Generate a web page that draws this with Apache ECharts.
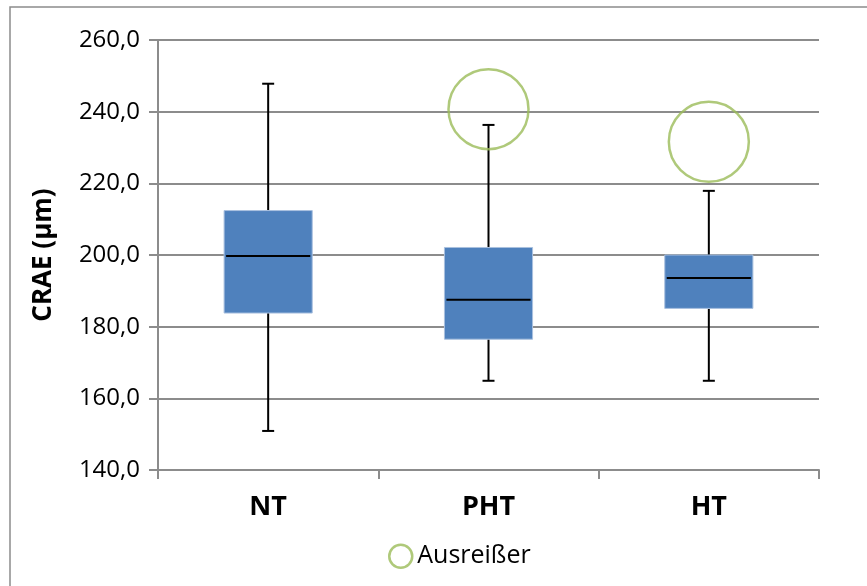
<!DOCTYPE html>
<html>
<head>
<meta charset="utf-8">
<script src="https://cdn.jsdelivr.net/npm/echarts@6/dist/echarts.min.js"></script>
<style>
  html, body { margin: 0; padding: 0; background: #fff; }
  #chart { width: 867px; height: 586px; }
</style>
</head>
<body>
<div id="chart"></div>
<script>
// CRAE per group: whisker ends, quartiles and median (µm)
const categories = ['NT', 'PHT', 'HT'];
const whiskerLow  = [150.9, 164.9, 164.9];
const quartile1   = [183.8, 176.5, 185.1];
const median      = [199.7, 187.5, 193.6];
const quartile3   = [212.4, 202.1, 200.0];
const whiskerHigh = [247.8, 236.3, 217.9];

// Outliers (group, value)
const outlierGroups = ['PHT', 'HT'];
const outlierValues = [240.7, 231.6];

const yTicks = { min: 140, max: 260, interval: 20 };

const FONT = '"Open Sans", "Noto Sans", sans-serif';
const GRID_COLOR = '#8c8c8c';

const boxData = categories.map((c, i) =>
  [i, whiskerLow[i], quartile1[i], median[i], quartile3[i], whiskerHigh[i]]);
const outlierData = outlierGroups.map((g, i) => [g, outlierValues[i]]);

function renderBox(params, api) {
  const x = api.value(0);
  const pLow = api.coord([x, api.value(1)]);
  const pQ1 = api.coord([x, api.value(2)]);
  const pMed = api.coord([x, api.value(3)]);
  const pQ3 = api.coord([x, api.value(4)]);
  const pHigh = api.coord([x, api.value(5)]);
  const bandW = api.size([1, 0])[0];
  const boxW = bandW * 0.4;
  const capW = 12;
  const cx = pMed[0];
  const lineStyle = { stroke: '#000', lineWidth: 2 };
  return {
    type: 'group',
    children: [
      { type: 'line', shape: { x1: cx, y1: pHigh[1], x2: cx, y2: pQ3[1] }, style: lineStyle },
      { type: 'line', shape: { x1: cx, y1: pQ1[1], x2: cx, y2: pLow[1] }, style: lineStyle },
      { type: 'line', shape: { x1: cx - capW / 2, y1: pHigh[1], x2: cx + capW / 2, y2: pHigh[1] }, style: lineStyle },
      { type: 'line', shape: { x1: cx - capW / 2, y1: pLow[1], x2: cx + capW / 2, y2: pLow[1] }, style: lineStyle },
      { type: 'rect', shape: { x: cx - boxW / 2, y: pQ3[1], width: boxW, height: pQ1[1] - pQ3[1] },
        style: { fill: '#4F81BD', stroke: '#a9c0df', lineWidth: 1 } },
      { type: 'line', shape: { x1: cx - boxW / 2 + 2, y1: pMed[1], x2: cx + boxW / 2 - 2, y2: pMed[1] }, style: lineStyle }
    ]
  };
}

const chart = echarts.init(document.getElementById('chart'), null, { renderer: 'canvas' });
chart.setOption({
  backgroundColor: '#fff',
  animation: false,
  graphic: [{
    type: 'rect',
    shape: { x: 10, y: 7, width: 880, height: 620 },
    style: { fill: 'none', stroke: '#8c8c8c', lineWidth: 1.5 },
    silent: true
  }],
  grid: { left: 158, right: 48, top: 40, bottom: 116 },
  legend: {
    bottom: 12,
    left: 383,
    itemWidth: 23,
    itemHeight: 23,
    itemGap: 10,
    textStyle: { fontFamily: FONT, fontSize: 25, color: '#000' },
    data: [{
      name: 'Ausreißer',
      icon: 'circle',
      itemStyle: { color: '#fff', borderColor: '#9BBB59', borderWidth: 2.5 }
    }]
  },
  xAxis: {
    type: 'category',
    data: categories,
    boundaryGap: true,
    axisLine: { lineStyle: { color: GRID_COLOR, width: 2 } },
    axisTick: { show: true, length: 9, lineStyle: { color: GRID_COLOR, width: 2 } },
    axisLabel: { fontFamily: FONT, fontSize: 27, fontWeight: 'bold', color: '#000', margin: 24 },
    splitLine: { show: false }
  },
  yAxis: {
    type: 'value',
    min: yTicks.min,
    max: yTicks.max,
    interval: yTicks.interval,
    name: 'CRAE (µm)',
    nameLocation: 'middle',
    nameGap: 101,
    nameTextStyle: { fontFamily: FONT, fontSize: 26, fontWeight: 'bold', color: '#000' },
    axisLine: { show: true, lineStyle: { color: GRID_COLOR, width: 2 } },
    axisTick: { show: true, length: 9, lineStyle: { color: GRID_COLOR, width: 2 } },
    axisLabel: {
      fontFamily: FONT, fontSize: 24, color: '#000', margin: 18,
      formatter: v => v.toFixed(1).replace('.', ',')
    },
    splitLine: { show: true, lineStyle: { color: GRID_COLOR, width: 2 } }
  },
  series: [
    {
      type: 'custom',
      name: 'CRAE',
      renderItem: renderBox,
      encode: { x: 0, y: [1, 2, 3, 4, 5] },
      data: boxData,
      z: 3
    },
    {
      type: 'scatter',
      name: 'Ausreißer',
      symbol: 'circle',
      symbolSize: 80,
      itemStyle: { color: 'rgba(0,0,0,0)', borderColor: '#9BBB59', borderWidth: 2.5 },
      data: outlierData,
      z: 4
    }
  ]
});
</script>
</body>
</html>
